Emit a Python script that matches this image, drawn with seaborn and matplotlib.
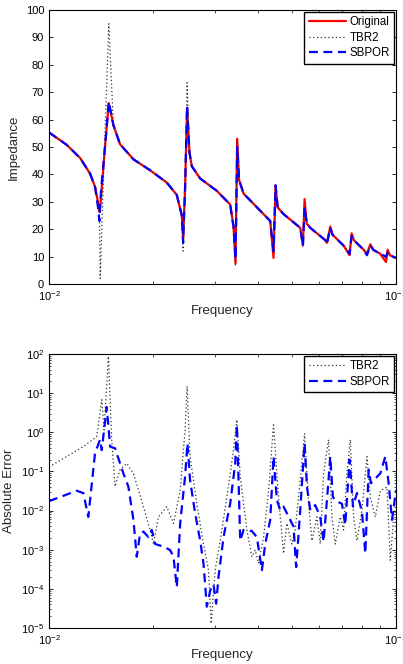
import numpy as np
import pandas as pd
import matplotlib
matplotlib.use("Agg")
import matplotlib.pyplot as plt
import seaborn as sns
from matplotlib.ticker import LogLocator, NullFormatter, MultipleLocator

# ---------------- data ----------------
freq_top = [0.01000, 0.01124, 0.01229, 0.01313, 0.01357, 0.01388, 0.01397, 0.01405,
            0.01419, 0.01450, 0.01487, 0.01533, 0.01602, 0.01751, 0.01956, 0.02185,
            0.02335, 0.02414, 0.02435, 0.02467, 0.02500, 0.02540, 0.02579, 0.02727,
            0.03045, 0.03328, 0.03402, 0.03448, 0.03486, 0.03530, 0.03636, 0.03972,
            0.04340, 0.04437, 0.04497, 0.04560, 0.04742, 0.05297, 0.05392, 0.05452,
            0.05530, 0.05662, 0.06255, 0.06324, 0.06465, 0.06560, 0.07063, 0.07350,
            0.07449, 0.07560, 0.08067, 0.08248, 0.08433, 0.08600, 0.09011, 0.09359,
            0.09463, 0.09600, 0.10000]
original = [55.3, 50.8, 46.0, 40.3, 35.5, 29.0, 26.5, 28.0,
            35.0, 50.0, 66.0, 58.0, 51.0, 45.5, 41.5, 37.0,
            32.5, 25.0, 16.5, 35.0, 64.0, 48.0, 43.0, 38.5,
            34.0, 29.0, 21.0, 7.5, 53.0, 38.0, 33.0, 28.0,
            23.0, 9.5, 36.0, 28.0, 25.5, 20.5, 14.0, 31.0,
            22.0, 20.5, 16.0, 15.0, 21.0, 18.0, 14.0, 10.5,
            18.5, 16.0, 12.5, 11.0, 14.5, 12.5, 11.0, 8.0,
            12.5, 10.5, 9.5]
tbr2 = [55.3, 50.8, 46.0, 40.3, 35.5, 29.0, 26.5, 2.0,
        20.0, 55.0, 95.0, 58.0, 51.0, 45.5, 41.5, 37.0,
        32.5, 25.0, 12.0, 35.0, 73.5, 48.0, 43.0, 38.5,
        34.0, 29.0, 21.0, 6.5, 52.0, 38.0, 33.0, 28.0,
        23.0, 11.0, 35.0, 28.0, 25.5, 20.5, 15.0, 28.0,
        22.0, 20.5, 16.0, 15.5, 20.0, 18.0, 14.0, 11.5,
        17.5, 16.0, 12.5, 11.5, 14.0, 12.5, 11.0, 9.5,
        12.0, 10.5, 9.5]
sbpor = [55.3, 50.8, 46.0, 40.3, 35.5, 27.0, 23.0, 30.0,
         37.0, 50.0, 66.5, 58.0, 51.0, 45.5, 41.5, 37.0,
         32.5, 25.0, 15.0, 35.0, 65.0, 48.0, 43.0, 38.5,
         34.0, 29.0, 21.0, 9.0, 50.0, 38.0, 33.0, 28.0,
         23.0, 12.0, 36.0, 28.0, 25.5, 20.5, 14.0, 28.0,
         22.0, 20.5, 16.0, 14.5, 20.5, 18.0, 14.0, 11.0,
         17.5, 16.0, 12.5, 10.5, 14.0, 12.5, 11.0, 10.0,
         11.5, 10.5, 9.5]

freq_err_tbr2 = [0.01000, 0.01124, 0.01256, 0.01373, 0.01419, 0.01441, 0.01483, 0.01516, 0.01550, 0.01602,
                 0.01675, 0.01751, 0.01871, 0.01956, 0.02000, 0.02067, 0.02185, 0.02284, 0.02388, 0.02467,
                 0.02500, 0.02550, 0.02667, 0.02787, 0.02882, 0.02933, 0.03012, 0.03114, 0.03255, 0.03402,
                 0.03479, 0.03557, 0.03718, 0.03842, 0.03929, 0.04017, 0.04154, 0.04293, 0.04437, 0.04586,
                 0.04742, 0.04848, 0.05012, 0.05123, 0.05297, 0.05452, 0.05599, 0.05724, 0.05917, 0.06049,
                 0.06184, 0.06392, 0.06537, 0.06683, 0.06908, 0.07063, 0.07222, 0.07384, 0.07549, 0.07718,
                 0.07979, 0.08248, 0.08433, 0.08718, 0.09013, 0.09419, 0.09630, 0.09846, 0.10000]
err_tbr2 = [0.13, 0.24, 0.43, 0.78, 6.8, 1.15, 87.0, 0.65, 0.041, 0.11,
            0.16, 0.089, 0.0126, 0.0032, 0.0014, 0.0069, 0.0126, 0.0047, 0.033, 1.15,
            15.0, 0.24, 0.015, 0.0014, 0.0003, 0.000013, 0.0003, 0.0017, 0.022, 0.35,
            2.1, 0.074, 0.0032, 0.00066, 0.00098, 0.00045, 0.0021, 0.033, 1.55, 0.022,
            0.0008, 0.0047, 0.0014, 0.0032, 0.06, 0.93, 0.015, 0.0017, 0.0069, 0.0014,
            0.089, 0.65, 0.0069, 0.0014, 0.0069, 0.0032, 0.089, 0.65, 0.0069, 0.0017,
            0.0102, 0.24, 0.022, 0.0069, 0.032, 0.04, 0.00054, 0.0069, 0.015]

freq_err_sbpor = [0.01000, 0.01202, 0.01256, 0.01298, 0.01357, 0.01403, 0.01419, 0.01467, 0.01500, 0.01550,
                  0.01638, 0.01693, 0.01751, 0.01790, 0.01830, 0.01871, 0.01934, 0.01978, 0.02022, 0.02137,
                  0.02234, 0.02284, 0.02335, 0.02388, 0.02467, 0.02506, 0.02550, 0.02637, 0.02727, 0.02787,
                  0.02850, 0.02914, 0.02979, 0.03032, 0.03080, 0.03184, 0.03328, 0.03441, 0.03479, 0.03518,
                  0.03557, 0.03636, 0.03842, 0.03972, 0.04107, 0.04199, 0.04341, 0.04437, 0.04536, 0.04637,
                  0.04742, 0.04956, 0.05067, 0.05157, 0.05297, 0.05452, 0.05537, 0.05661, 0.05852, 0.06049,
                  0.06184, 0.06392, 0.06465, 0.06580, 0.06757, 0.06985, 0.07141, 0.07350, 0.07516, 0.07718,
                  0.07979, 0.08157, 0.08341, 0.08471, 0.08718, 0.09013, 0.09316, 0.09524, 0.09739, 0.10000]
err_sbpor = [0.0174, 0.032, 0.028, 0.0069, 0.29, 0.65, 0.35, 4.4, 0.43, 0.39,
             0.089, 0.041, 0.0058, 0.00066, 0.0026, 0.0029, 0.0021, 0.0032, 0.0014, 0.0012,
             0.00098, 0.00066, 0.00011, 0.0047, 0.074, 0.52, 0.06, 0.0085, 0.0017, 0.00045,
             0.000035, 0.00009, 0.00013, 0.000042, 0.0002, 0.0021, 0.015, 0.16, 1.55, 0.06,
             0.0017, 0.0032, 0.003, 0.0021, 0.0003, 0.0014, 0.0058, 0.24, 0.019, 0.0102,
             0.0126, 0.0058, 0.0039, 0.00036, 0.0102, 0.52, 0.041, 0.0102, 0.0138, 0.0069,
             0.0016, 0.06, 0.24, 0.022, 0.017, 0.015, 0.0043, 0.20, 0.0126, 0.028,
             0.0093, 0.0008, 0.11, 0.05, 0.066, 0.089, 0.24, 0.05, 0.0058, 0.033]

# ---------------- style ----------------
sns.set_theme(style="ticks")
plt.rcParams['font.family'] = ['Liberation Sans', 'DejaVu Sans']
plt.rcParams.update({
    'xtick.direction': 'in', 'ytick.direction': 'in',
    'xtick.top': True, 'ytick.right': True,
    'xtick.labelsize': 8, 'ytick.labelsize': 8,
    'axes.labelsize': 9.5, 'axes.linewidth': 0.8,
    'xtick.major.size': 3, 'ytick.major.size': 3,
    'xtick.minor.size': 2, 'ytick.minor.size': 1.5,
    'xtick.major.width': 0.6, 'ytick.major.width': 0.6,
    'xtick.minor.width': 0.5, 'ytick.minor.width': 0.5,
    'axes.edgecolor': 'black', 'text.color': 'black',
    'xtick.color': 'black', 'ytick.color': 'black',
    'mathtext.fontset': 'custom', 'mathtext.rm': 'Liberation Sans',
    'mathtext.it': 'Liberation Sans', 'mathtext.default': 'regular',
})

fig = plt.figure(figsize=(4.03, 6.64), dpi=100)
ax1 = fig.add_axes([0.1216, 0.5723, 0.861, 0.4127])
ax2 = fig.add_axes([0.1216, 0.0542, 0.861, 0.4127])

top = pd.DataFrame({'f': freq_top, 'Original': original, 'TBR2': tbr2, 'SBPOR': sbpor})

sns.lineplot(data=top, x='f', y='Original', ax=ax1, color='#ff0000', lw=1.6,
             label='Original', estimator=None, sort=False)
sns.lineplot(data=top, x='f', y='TBR2', ax=ax1, color='#333333', lw=0.9,
             linestyle=(0, (1, 2)), label='TBR2', estimator=None, sort=False)
sns.lineplot(data=top, x='f', y='SBPOR', ax=ax1, color='#0000ff', lw=1.6,
             linestyle=(0, (4, 2.5)), label='SBPOR', estimator=None, sort=False)

e1 = pd.DataFrame({'f': freq_err_tbr2, 'err': err_tbr2})
e2 = pd.DataFrame({'f': freq_err_sbpor, 'err': err_sbpor})
sns.lineplot(data=e1, x='f', y='err', ax=ax2, color='#333333', lw=0.9,
             linestyle=(0, (1, 2)), label='TBR2', estimator=None, sort=False)
sns.lineplot(data=e2, x='f', y='err', ax=ax2, color='#0000ff', lw=1.6,
             linestyle=(0, (4, 2.5)), label='SBPOR', estimator=None, sort=False)

for ax in (ax1, ax2):
    ax.set_xscale('log')
    ax.set_xlim(0.01, 0.1)
    ax.set_xlabel('Frequency', labelpad=2)
    ax.xaxis.set_minor_locator(LogLocator(base=10, subs=np.arange(2, 10)))
    ax.xaxis.set_minor_formatter(NullFormatter())
    for s in ax.spines.values():
        s.set_visible(True)
        s.set_color('black')
    leg = ax.legend(loc='upper right', fontsize=8.3, frameon=True, fancybox=False,
                    borderaxespad=0.15, handlelength=3.2, labelspacing=0.3,
                    borderpad=0.4, handletextpad=0.3)
    leg.get_frame().set_edgecolor('black')
    leg.get_frame().set_linewidth(1.0)
    leg.get_frame().set_alpha(1)

ax1.set_ylim(0, 100)
ax1.yaxis.set_major_locator(MultipleLocator(10))
ax1.set_ylabel('Impedance')

ax2.set_yscale('log')
ax2.set_ylim(1e-5, 1e2)
ax2.yaxis.set_major_locator(LogLocator(base=10, numticks=20))
ax2.yaxis.set_minor_locator(LogLocator(base=10, subs=np.arange(2, 10), numticks=20))
ax2.yaxis.set_minor_formatter(NullFormatter())
ax2.set_ylabel('Absolute Error')

fig.savefig('out.png', dpi=100)
